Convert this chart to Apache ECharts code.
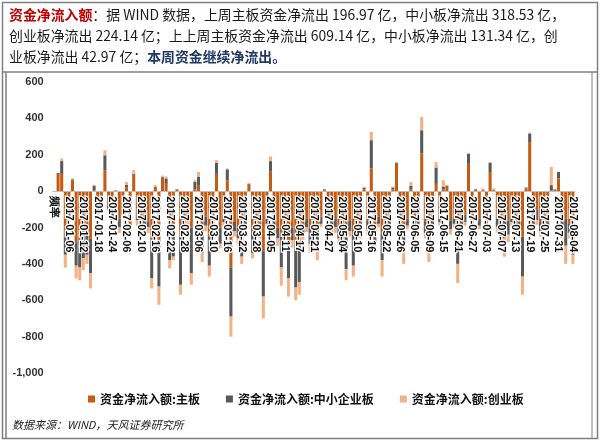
<!DOCTYPE html>
<html><head><meta charset="utf-8">
<script src="https://cdn.jsdelivr.net/npm/echarts@6/dist/echarts.min.js"></script>
<style>html,body{margin:0;padding:0;background:#fff}#c{width:600px;height:442px}</style>
</head><body><div id="c"></div>
<script>
const categories = ['频率',
'2017-01-03','2017-01-04','2017-01-05','2017-01-06','2017-01-09','2017-01-10','2017-01-11','2017-01-12','2017-01-13','2017-01-16','2017-01-17','2017-01-18','2017-01-19','2017-01-20','2017-01-23','2017-01-24','2017-01-25','2017-01-26',
'2017-02-03','2017-02-06','2017-02-07','2017-02-08','2017-02-09','2017-02-10','2017-02-13','2017-02-14','2017-02-15','2017-02-16','2017-02-17','2017-02-20','2017-02-21','2017-02-22','2017-02-23','2017-02-24','2017-02-27','2017-02-28',
'2017-03-01','2017-03-02','2017-03-03','2017-03-06','2017-03-07','2017-03-08','2017-03-09','2017-03-10','2017-03-13','2017-03-14','2017-03-15','2017-03-16','2017-03-17','2017-03-20','2017-03-21','2017-03-22','2017-03-23','2017-03-24','2017-03-27','2017-03-28','2017-03-29','2017-03-30','2017-03-31',
'2017-04-05','2017-04-06','2017-04-07','2017-04-10','2017-04-11','2017-04-12','2017-04-13','2017-04-14','2017-04-17','2017-04-18','2017-04-19','2017-04-20','2017-04-21','2017-04-24','2017-04-25','2017-04-26','2017-04-27','2017-04-28',
'2017-05-02','2017-05-03','2017-05-04','2017-05-05','2017-05-08','2017-05-09','2017-05-10','2017-05-11','2017-05-12','2017-05-15','2017-05-16','2017-05-17','2017-05-18','2017-05-19','2017-05-22','2017-05-23','2017-05-24','2017-05-25','2017-05-26','2017-05-31',
'2017-06-01','2017-06-02','2017-06-05','2017-06-06','2017-06-07','2017-06-08','2017-06-09','2017-06-12','2017-06-13','2017-06-14','2017-06-15','2017-06-16','2017-06-19','2017-06-20','2017-06-21','2017-06-22','2017-06-23','2017-06-26','2017-06-27','2017-06-28','2017-06-29','2017-06-30',
'2017-07-03','2017-07-04','2017-07-05','2017-07-06','2017-07-07','2017-07-10','2017-07-11','2017-07-12','2017-07-13','2017-07-14','2017-07-17','2017-07-18','2017-07-19','2017-07-20','2017-07-21','2017-07-24','2017-07-25','2017-07-26','2017-07-27','2017-07-28','2017-07-31',
'2017-08-01','2017-08-02','2017-08-03','2017-08-04'];

const mainBoard = [null,
95,95,-230,-100,60,-280,-260,-220,-200,-260,5,-90,-60,115,-80,-120,3,-150,
-100,20,-180,90,-120,-160,-100,-170,-270,25,-300,75,40,-200,-250,10,-250,-150,
-120,-200,10,30,-230,-140,-250,-150,95,-200,-130,60,-420,-170,-200,-250,-160,35,-220,-150,-180,-330,-140,
110,-160,-200,-250,-180,-280,-200,-300,-280,-180,-150,-200,-160,-230,-140,5,-120,-170,
-150,-200,-180,-230,-160,-240,-140,-180,10,-160,125,-200,-140,-230,-170,-150,10,150,-180,-230,
-150,10,-160,-140,207,-170,-230,-150,40,-130,10,30,-160,-140,-260,-170,-130,150,-160,8,-150,5,
-170,105,4,-140,-180,-150,-160,-130,-170,-140,-250,15,270,-150,-100,-170,-130,-160,5,5,70,
-170,-150,-180,-320];

const smeBoard = [null,
5,70,-120,-40,5,-130,-160,-150,-150,-190,25,-25,-20,82,-20,-40,2,-50,
-30,15,-30,5,-40,-40,-80,-30,-210,0,-225,5,30,-180,-110,0,-265,-50,
-40,-250,40,50,-110,-50,-160,-50,60,-90,-40,60,-270,-50,-60,-110,-40,5,-120,-40,-50,-250,-40,
55,-50,-60,-170,-60,-200,-70,-230,-220,-60,-50,-90,-40,-100,-40,5,-30,-40,
-50,-60,-70,-200,-60,-170,-40,-50,8,-50,155,-90,-40,-150,-50,-40,10,5,-60,-70,
-40,20,-60,-40,128,-60,-110,-40,90,-40,15,0,-50,-40,-140,-50,-40,55,-50,3,-40,3,
-60,50,3,-60,-90,-110,-80,-40,-70,-50,-220,5,47,-40,-60,-50,-40,-60,28,5,35,
-60,-150,-50,-30];

const gemBoard = [null,
0,15,-70,-20,5,-70,-70,-65,-50,-85,5,-15,-10,28,-10,-20,1,-30,
-20,15,-20,20,-30,-25,-20,-30,-55,8,-100,5,10,-45,-20,0,-55,-30,
-20,-65,10,25,-50,-30,-60,-30,15,-25,-20,5,-110,-30,-30,-40,-20,5,-30,-20,-30,-120,-20,
25,-30,-40,-100,-30,-100,-40,-70,-70,-30,-25,-50,-20,-50,-20,2,-20,-20,
-30,-30,-30,-60,-30,-60,-20,-30,5,-30,45,-40,-20,-90,-30,-20,5,5,-30,-100,
-20,20,-30,-20,73,-30,-50,-20,30,-20,35,5,-30,-20,-105,-30,-20,5,-30,2,-20,7,
-30,5,8,-30,-40,-100,-40,-20,-30,-20,-100,2,5,-20,-25,-30,-20,-30,100,2,0,
-30,-100,-30,-50];

const seriesNames = ['资金净流入额:主板','资金净流入额:中小企业板','资金净流入额:创业板'];
const colors = ['#c55a11','#595959','#f4b183'];

const chart = echarts.init(document.getElementById('c'), null, {renderer:'canvas'});
const cjk = "'Noto Sans CJK SC', sans-serif";
const txt = {fontFamily: cjk, fontSize: 13.9, fill: '#1a1a1a'};
const gridTop = 82, gridBottom = 69, yMin = -1000, yMax = 600;
const gridH = 442 - gridTop - gridBottom;
const zeroOffset = -gridH * (0 - yMin) / (yMax - yMin);
chart.setOption({
  animation: false,
  backgroundColor: '#fff',
  color: colors,
  grid: {left: 52.7, right: 25.3, top: gridTop, bottom: gridBottom},
  xAxis: {
    type: 'category', data: categories, z: 5, offset: zeroOffset,
    axisLine: {onZero: false, lineStyle: {color: '#bfbfbf', width: 1}},
    axisTick: {show: false},
    axisLabel: {interval: 3, rotate: -90, margin: 5, fontFamily: 'Arial, Liberation Sans, sans-serif',
      fontSize: 11, fontWeight: 'bold', color: '#111', textBorderColor: '#fff', textBorderWidth: 2.5}
  },
  yAxis: {
    type: 'value', min: yMin, max: yMax, interval: 200,
    axisLine: {show: false}, axisTick: {show: false}, splitLine: {show: false},
    axisLabel: {fontFamily: 'Arial, Liberation Sans, sans-serif', fontSize: 11, fontWeight: 'bold', color: '#333', margin: 9}
  },
  legend: {
    left: 83, top: 388, itemWidth: 7, itemHeight: 7, itemGap: 26, icon: 'rect',
    textStyle: {fontFamily: cjk, fontSize: 12, fontWeight: 'bold', color: '#111'},
    data: seriesNames
  },
  series: [
    {name: seriesNames[0], type: 'bar', stack: 's', data: mainBoard, barCategoryGap: '15%'},
    {name: seriesNames[1], type: 'bar', stack: 's', data: smeBoard, barCategoryGap: '15%'},
    {name: seriesNames[2], type: 'bar', stack: 's', data: gemBoard, barCategoryGap: '15%'}
  ],
  graphic: [
    {type: 'rect', shape: {x: 2.5, y: 2.5, width: 595, height: 436}, style: {fill: 'none', stroke: '#7f7f7f', lineWidth: 1.5}, silent: true},
    {type: 'line', shape: {x1: 2.5, y1: 72, x2: 597.5, y2: 72}, style: {stroke: '#7f7f7f', lineWidth: 1.5}, silent: true},
    {type: 'line', shape: {x1: 6, y1: 72, x2: 6, y2: 438}, style: {stroke: '#7f7f7f', lineWidth: 1.5}, silent: true},
    {type: 'line', shape: {x1: 592, y1: 72, x2: 592, y2: 438}, style: {stroke: '#7f7f7f', lineWidth: 1}, silent: true},
    {type: 'text', left: 9, top: 8, style: {
      text: '{r|资金净流入额}{t|：据 WIND 数据，上周主板资金净流出 196.97 亿，中小板净流出 318.53 亿，}',
      rich: {r: Object.assign({}, txt, {fill: '#c00000', fontWeight: 'bold'}), t: txt}}},
    {type: 'text', left: 9, top: 29, style: {
      text: '{t|创业板净流出 224.14 亿；上上周主板资金净流出 609.14 亿，中小板净流出 131.34 亿，创}',
      rich: {t: txt}}},
    {type: 'text', left: 9, top: 50, style: {
      text: '{t|业板净流出 42.97 亿；}{b|本周资金继续净流出。}',
      rich: {t: txt, b: Object.assign({}, txt, {fill: '#1f3864', fontWeight: 'bold'})}}},
    {type: 'text', left: 12, top: 419, style: {
      text: '数据来源：WIND，天风证券研究所', fontFamily: cjk, fontSize: 11, fontStyle: 'italic', fill: '#222'}}
  ]
});
</script></body></html>
